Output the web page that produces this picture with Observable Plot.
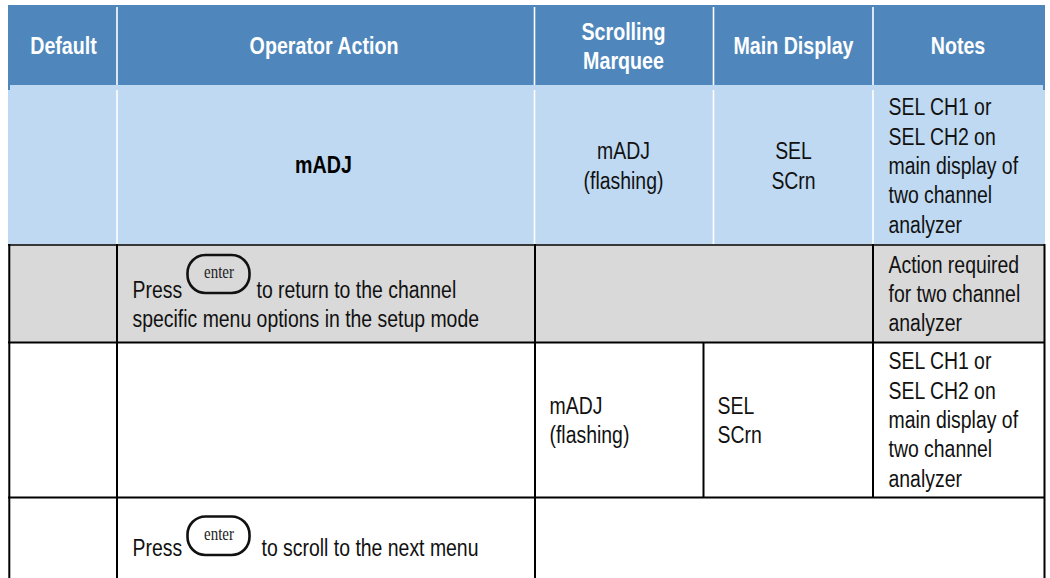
<!DOCTYPE html>
<html>
<head>
<meta charset="utf-8">
<script src="https://cdn.jsdelivr.net/npm/d3@7"></script>
<script src="https://cdn.jsdelivr.net/npm/@observablehq/plot@0.6"></script>
<style>html,body{margin:0;padding:0;background:#fff}svg{display:block}</style>
</head>
<body>
<div id="chart"></div>
<script>
// Table bands: [x1, x2, y1, y2, fill]
const bands = [
  [8, 1045, 5, 85, "#4f87bc"],
  [8, 1045, 85, 244, "#bfd9f2"],
  [8, 1045, 244, 342, "#d9d9d9"],
  [8, 10, 85, 90, "#4f87bc"],
  [1043, 1045, 85, 90, "#4f87bc"]
];
// White header/row separators: [x, y1, y2]
const whiteRules = [
  [116.5, 7, 85], [116.5, 90, 244],
  [534, 7, 85], [534, 90, 244],
  [713, 7, 85], [713, 90, 244],
  [872.5, 7, 85], [872.5, 90, 244]
];
// Black vertical cell borders: [x, y1, y2]
const blackVerticals = [
  [8.8, 244, 578], [116.5, 244, 578], [534.5, 244, 578],
  [703, 342, 497], [872.5, 244, 497], [1044, 244, 578]
];
// Black horizontal cell borders: [y, width]
const blackHorizontals = [[244.5, 1.6], [342, 2], [497, 2]];
// Header labels
const headerLabels = [
  ["Default", 63, 44], ["Operator Action", 323.5, 44],
  ["Scrolling\nMarquee", 623, 44.5], ["Main Display", 793, 44], ["Notes", 957.5, 44]
];
// Centred / left body labels
const notesA = "SEL CH1 or\nSEL CH2 on\nmain display of\ntwo channel\nanalyzer";
const notesB = "Action required\nfor two channel\nanalyzer";
const centeredLabels = [
  ["mADJ\n(flashing)", 623, 164], ["SEL\nSCrn", 793, 164]
];
const leftLabels = [
  [notesA, 888, 164], [notesB, 888, 292],
  ["Press", 132, 288], ["to return to the channel", 256, 288],
  ["specific menu options in the setup mode", 132, 317],
  ["mADJ\n(flashing)", 549, 418.5], ["SEL\nSCrn", 717, 418.5],
  [notesA, 888, 418],
  ["Press", 132, 546], ["to scroll to the next menu", 261, 546]
];
const boldLabels = [["mADJ", 323, 165]];
// "enter" key glyphs: [x1, x2, y1, y2]
const keys = [[187.5, 249.5, 255, 293], [187.5, 249.5, 516.5, 555]];

const font = "'Liberation Sans', Arial, sans-serif";
const px = 23.4, lh = 29.4 / px, squeezeRegular = 0.83, squeezeBold = 0.84;

const chart = Plot.plot({
  width: 1050, height: 578,
  margin: 0,
  x: {domain: [0, 1050], range: [0, 1050], axis: null},
  y: {domain: [0, 578], range: [0, 578], axis: null},
  style: {fontFamily: font, background: "#fff"},
  marks: [
    Plot.rect(bands, {x1: d => d[0], x2: d => d[1], y1: d => d[2], y2: d => d[3], fill: d => d[4]}),
    Plot.ruleX(whiteRules, {x: d => d[0], y1: d => d[1], y2: d => d[2], stroke: "#fff", strokeWidth: 1.6}),
    Plot.ruleY(blackHorizontals, {y: d => d[0], x1: 8, x2: 1045, stroke: "#000", strokeWidth: d => d[1]}),
    Plot.ruleX(blackVerticals, {x: d => d[0], y1: d => d[1], y2: d => d[2], stroke: "#000", strokeWidth: 2}),
    Plot.rect(keys, {x1: d => d[0], x2: d => d[1], y1: d => d[2], y2: d => d[3], rx: 18, fill: "none", stroke: "#111", strokeWidth: 2.6}),
    Plot.text(keys, {x: d => (d[0] + d[1]) / 2, y: d => (d[2] + d[3]) / 2 - 2, text: () => "enter", fontSize: 18, fill: "#222", fontFamily: "'Liberation Serif', serif"}),
    Plot.text(headerLabels, {x: d => d[1], y: d => d[2], text: d => d[0], fill: "#fff", fontWeight: "bold", fontSize: px, lineHeight: lh}),
    Plot.text(boldLabels, {x: d => d[1], y: d => d[2], text: d => d[0], fill: "#000", fontWeight: "bold", fontSize: px}),
    Plot.text(centeredLabels, {x: d => d[1], y: d => d[2], text: d => d[0], fill: "#111", fontSize: px, lineHeight: lh}),
    Plot.text(leftLabels, {x: d => d[1], y: d => d[2], text: d => d[0], textAnchor: "start", fill: "#111", fontSize: px, lineHeight: lh})
  ]
});
// The reference type is condensed: squeeze each label horizontally about its anchor.
chart.querySelectorAll("text").forEach(t => {
  const s = t.closest("[font-weight]") ? squeezeBold : squeezeRegular;
  t.setAttribute("transform", `${t.getAttribute("transform") || ""} scale(${s},1)`);
});
document.getElementById("chart").append(chart);
</script>
</body>
</html>
